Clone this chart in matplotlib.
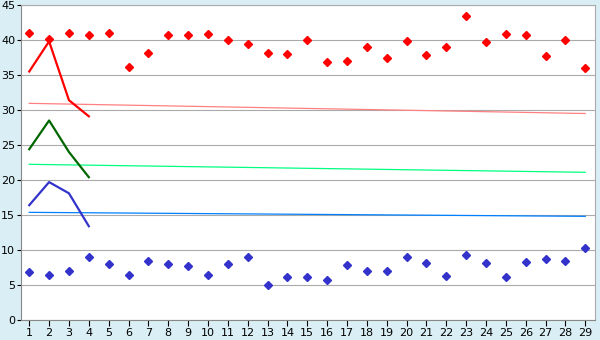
import matplotlib
matplotlib.use("Agg")
import matplotlib.pyplot as plt

# categories 1..29
days = list(range(1, 30))

# scattered points
red_pts = [41.0, 40.1, 41.0, 40.7, 41.0, 36.1, 38.2, 40.7, 40.7, 40.8,
           40.0, 39.4, 38.2, 38.0, 40.0, 36.8, 37.0, 39.0, 37.5, 39.8,
           37.8, 39.0, 43.5, 39.7, 40.8, 40.7, 37.7, 40.0, 36.0]
blue_pts = [6.8, 6.5, 7.0, 8.95, 7.95, 6.4, 8.5, 7.95, 7.67, 6.5,
            7.95, 8.95, 4.95, 6.1, 6.1, 5.67, 7.8, 6.95, 6.95, 8.95,
            8.1, 6.24, 9.24, 8.1, 6.1, 8.24, 8.67, 8.38, 10.24]

# short lines over first four days
line_days = [1, 2, 3, 4]
red_line = [35.5, 39.8, 31.4, 29.1]
green_line = [24.4, 28.5, 24.0, 20.4]
blue_line = [16.4, 19.7, 18.1, 13.4]

# trend lines (start at day 1, end at day 29)
trend_days = [1, 29]
red_trend = [30.95, 29.5]
green_trend = [22.24, 21.1]
blue_trend = [15.38, 14.81]

bg = '#daeff5'
fig = plt.figure(figsize=(6, 3.4), dpi=100, facecolor=bg)
ax = fig.add_axes([20.7 / 600, 20 / 340, 574.3 / 600, 315 / 340])
ax.set_facecolor('white')

ax.plot(trend_days, red_trend, color='#ff8080', lw=0.9)
ax.plot(trend_days, green_trend, color='#00ff80', lw=0.9)
ax.plot(trend_days, blue_trend, color='#0080ff', lw=0.9)

ax.plot(line_days, red_line, color='#ff0000', lw=1.6)
ax.plot(line_days, green_line, color='#006600', lw=1.6)
ax.plot(line_days, blue_line, color='#3333cc', lw=1.6)

ax.plot(days, red_pts, ls='none', marker='D', ms=3.8, color='#ff0000')
ax.plot(days, blue_pts, ls='none', marker='D', ms=3.8, color='#3333cc')

ax.set_xlim(0.57, 29.49)
ax.set_ylim(0, 45)
ax.set_xticks(days)
ax.set_yticks(range(0, 50, 5))
ax.grid(axis='y', color='#aaaaaa', lw=0.8)
ax.set_axisbelow(True)
for s in ax.spines.values():
    s.set_color('#aaaaaa')
    s.set_linewidth(0.8)
ax.spines['left'].set_color('#888888')
ax.spines['bottom'].set_color('#888888')
ax.tick_params(axis='x', length=4, width=0.8, color='black', labelsize=8, pad=2)
ax.tick_params(axis='y', length=3, width=0.8, color='black', labelsize=8, pad=1)

fig.savefig('out.png', dpi=100, facecolor=bg)
